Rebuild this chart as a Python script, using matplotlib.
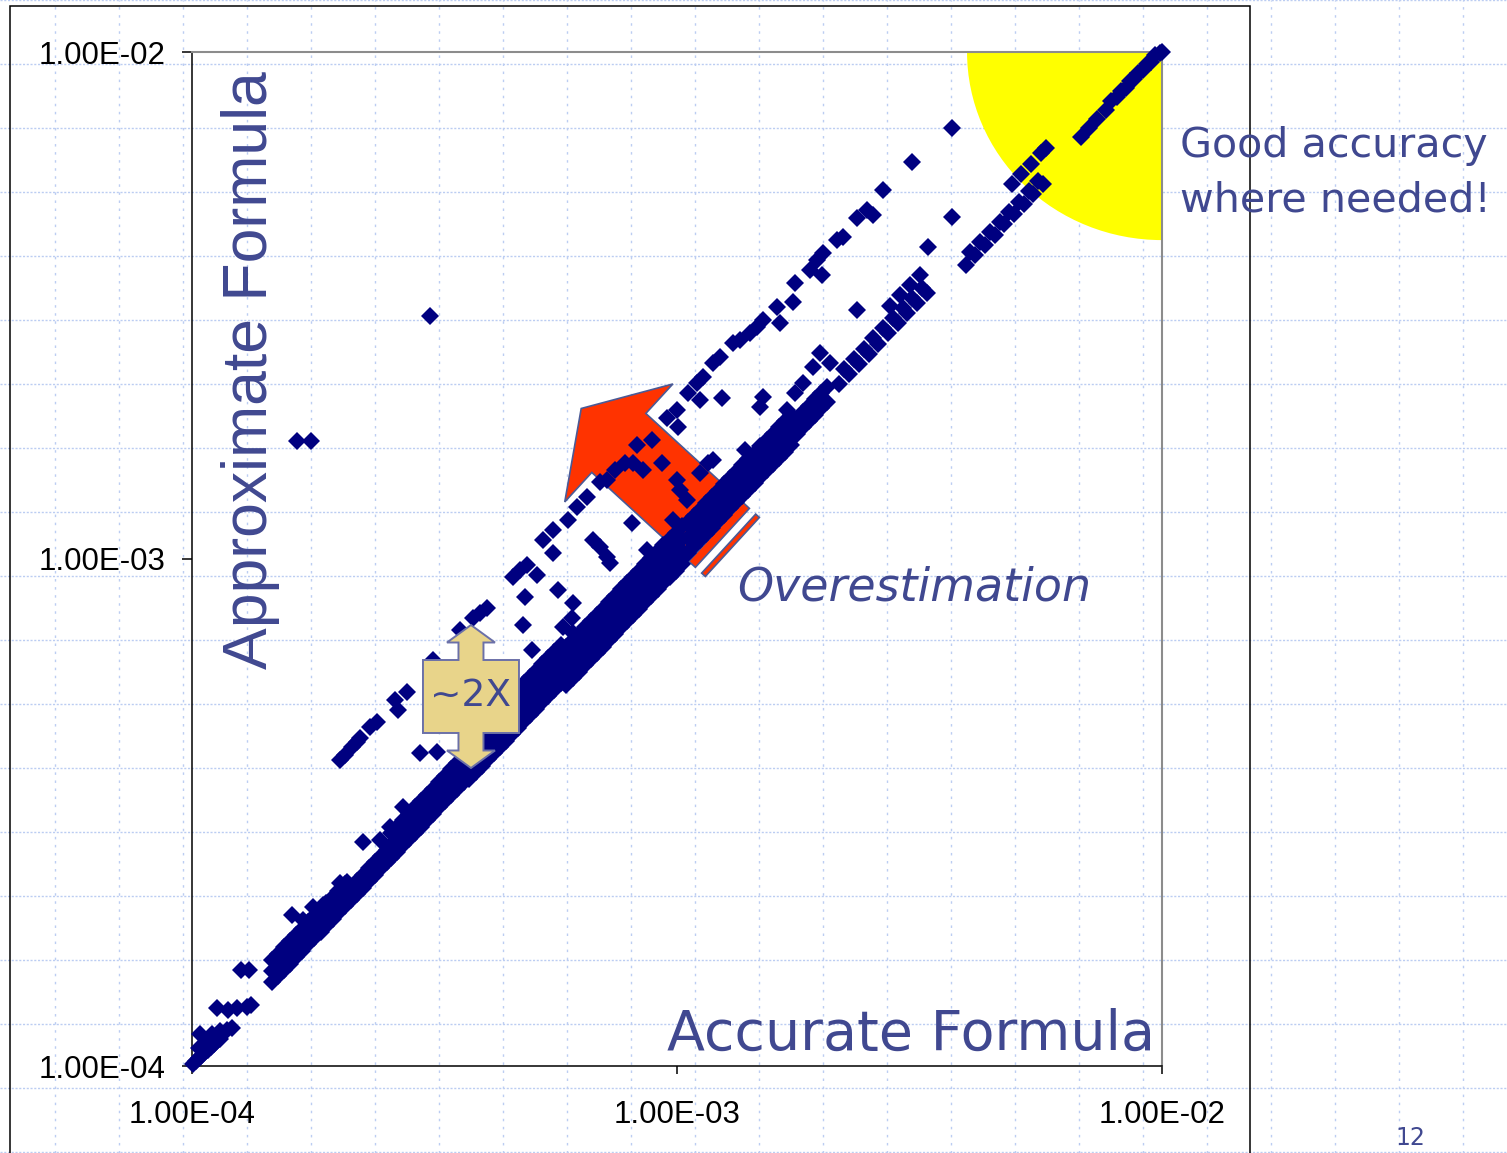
import numpy as np
import matplotlib.pyplot as plt
from matplotlib.patches import Polygon, Ellipse, Rectangle
from matplotlib.lines import Line2D
from matplotlib.ticker import FixedLocator, FuncFormatter, NullLocator
from matplotlib.transforms import Affine2D, ScaledTranslation

# log10 of (accurate value, approximate value) for each sample
low_acc = [-3.998, -3.992, -3.986, -3.979, -3.973, -3.967, -3.961, -3.955, -3.948, -3.942,
           -3.986, -3.977, -3.969, -3.984, -3.959, -3.942, -3.928, -3.918,
           -3.948, -3.926, -3.907, -3.887, -3.878, -3.899, -3.882]
low_apx = [-3.996, -3.990, -3.984, -3.978, -3.972, -3.968, -3.963, -3.957, -3.951, -3.947,
           -3.964, -3.961, -3.955, -3.937, -3.937, -3.931, -3.929, -3.925,
           -3.886, -3.890, -3.886, -3.884, -3.880, -3.811, -3.811]

# main band near the diagonal: accurate values, then approximate values row by row
seg1_acc = [-3.835, -3.823, -3.810, -3.798, -3.785, -3.773, -3.760, -3.748, -3.735, -3.723,
            -3.710, -3.698, -3.685]
seg1_apx = [
    [-3.835, -3.823, -3.810, -3.798, -3.785, -3.773, -3.760, -3.748, -3.735, -3.723, -3.710, -3.698, -3.685],
    [-3.813, -3.801, -3.788, -3.776, -3.763, -3.751, -3.738, -3.726, -3.713, -3.701, -3.688, -3.676, -3.663],
    [-3.791, -3.779, -3.766, -3.754, -3.741, -3.729, -3.716, -3.704, -3.691, -3.679, -3.666, -3.654, -3.641],
]
seg2_acc = [-3.673, -3.660, -3.648, -3.635, -3.623, -3.610, -3.598]
seg2_apx = [
    [-3.673, -3.660, -3.648, -3.635, -3.623, -3.610, -3.598],
    [-3.648, -3.635, -3.623, -3.610, -3.598, -3.585, -3.573],
]
seg3_acc = [-3.590, -3.578, -3.565, -3.553, -3.540, -3.528, -3.515, -3.503, -3.490, -3.478,
            -3.465, -3.453, -3.440]
seg3_apx = [
    [-3.590, -3.578, -3.565, -3.553, -3.540, -3.528, -3.515, -3.503, -3.490, -3.478, -3.465, -3.453, -3.440],
    [-3.565, -3.553, -3.540, -3.528, -3.515, -3.503, -3.490, -3.478, -3.465, -3.453, -3.440, -3.428, -3.415],
    [-3.540, -3.528, -3.515, -3.503, -3.490, -3.478, -3.465, -3.453, -3.440, -3.428, -3.415, -3.403, -3.390],
]
seg4_acc = [-3.428, -3.415, -3.403, -3.390, -3.378, -3.365, -3.353, -3.340, -3.328, -3.315,
            -3.303, -3.290, -3.278, -3.265, -3.253, -3.240]
seg4_apx = [
    [-3.433, -3.420, -3.408, -3.395, -3.383, -3.370, -3.358, -3.345, -3.333, -3.320, -3.308, -3.295, -3.283, -3.270, -3.258, -3.245],
    [-3.408, -3.395, -3.383, -3.370, -3.358, -3.345, -3.333, -3.320, -3.308, -3.295, -3.283, -3.270, -3.258, -3.245, -3.233, -3.220],
    [-3.383, -3.370, -3.358, -3.345, -3.333, -3.320, -3.308, -3.295, -3.283, -3.270, -3.258, -3.245, -3.233, -3.220, -3.208, -3.195],
    [-3.358, -3.345, -3.333, -3.320, -3.308, -3.295, -3.283, -3.270, -3.258, -3.245, -3.233, -3.220, -3.208, -3.195, -3.183, -3.170],
]
seg5_acc = [-3.228, -3.215, -3.203, -3.190, -3.178, -3.165, -3.153, -3.140, -3.128, -3.115,
            -3.103, -3.090, -3.078, -3.065, -3.053, -3.040, -3.028, -3.015, -3.003, -2.990]
seg5_apx = [
    [-3.248, -3.235, -3.223, -3.210, -3.198, -3.185, -3.173, -3.160, -3.148, -3.135,
     -3.123, -3.110, -3.098, -3.085, -3.073, -3.060, -3.048, -3.035, -3.023, -3.010],
    [-3.223, -3.210, -3.198, -3.185, -3.173, -3.160, -3.148, -3.135, -3.123, -3.110,
     -3.098, -3.085, -3.073, -3.060, -3.048, -3.035, -3.023, -3.010, -2.998, -2.985],
    [-3.198, -3.185, -3.173, -3.160, -3.148, -3.135, -3.123, -3.110, -3.098, -3.085,
     -3.073, -3.060, -3.048, -3.035, -3.023, -3.010, -2.998, -2.985, -2.973, -2.960],
    [-3.173, -3.160, -3.148, -3.135, -3.123, -3.110, -3.098, -3.085, -3.073, -3.060,
     -3.048, -3.035, -3.023, -3.010, -2.998, -2.985, -2.973, -2.960, -2.948, -2.935],
]
seg6_acc = [-2.978, -2.965, -2.953, -2.940, -2.928, -2.915, -2.903, -2.890, -2.878, -2.865,
            -2.853, -2.840, -2.828, -2.815, -2.803, -2.790, -2.778, -2.765]
seg6_apx = [
    [-2.988, -2.975, -2.963, -2.950, -2.938, -2.925, -2.913, -2.900, -2.888, -2.875,
     -2.863, -2.850, -2.838, -2.825, -2.813, -2.800, -2.788, -2.775],
    [-2.958, -2.945, -2.933, -2.920, -2.908, -2.895, -2.883, -2.870, -2.858, -2.845,
     -2.833, -2.820, -2.808, -2.795, -2.783, -2.770, -2.758, -2.745],
    [-2.928, -2.915, -2.903, -2.890, -2.878, -2.865, -2.853, -2.840, -2.828, -2.815,
     -2.803, -2.790, -2.778, -2.765, -2.753, -2.740, -2.728, -2.715],
]
seg7_acc = [-2.753, -2.740, -2.728, -2.715, -2.703, -2.690]
seg7_apx = [
    [-2.753, -2.740, -2.728, -2.715, -2.703, -2.690],
    [-2.723, -2.710, -2.698, -2.685, -2.673, -2.660],
]

top_acc = [-2.665, -2.645, -2.625, -2.605, -2.585, -2.565, -2.545, -2.525, -2.505, -2.485,
           -2.655, -2.635, -2.615, -2.595, -2.575, -2.555, -2.535, -2.515, -2.495,
           -2.560, -2.540, -2.520, -2.500,
           -2.405, -2.385, -2.365, -2.345, -2.325, -2.305, -2.285, -2.265, -2.245,
           -2.395, -2.375, -2.355, -2.335, -2.315, -2.295, -2.275, -2.255,
           -2.310, -2.290, -2.270, -2.250, -2.240,
           -2.167, -2.150, -2.133, -2.115,
           -2.093, -2.075, -2.058, -2.040, -2.023, -2.005, -2.000,
           -2.105, -2.084, -2.066, -2.049, -2.031, -2.014]
top_apx = [-2.655, -2.635, -2.615, -2.595, -2.575, -2.555, -2.535, -2.515, -2.495, -2.475,
           -2.625, -2.605, -2.585, -2.565, -2.545, -2.525, -2.505, -2.485, -2.465,
           -2.500, -2.480, -2.460, -2.440,
           -2.420, -2.400, -2.380, -2.360, -2.340, -2.320, -2.300, -2.280, -2.260,
           -2.395, -2.375, -2.355, -2.335, -2.315, -2.295, -2.275, -2.255,
           -2.260, -2.240, -2.220, -2.200, -2.190,
           -2.167, -2.150, -2.133, -2.115,
           -2.089, -2.071, -2.054, -2.036, -2.019, -2.002, -2.000,
           -2.097, -2.076, -2.058, -2.041, -2.023, -2.006]

# samples about twice the accurate value
twox_acc = [-3.695, -3.685, -3.670, -3.660, -3.654, -3.633, -3.619, -3.581, -3.575, -3.557,
            -3.503, -3.447, -3.421, -3.406, -3.392, -3.338, -3.324, -3.309, -3.276, -3.256,
            -3.225, -3.206, -3.186, -3.159, -3.144, -3.128, -3.107, -3.091, -3.082, -3.052,
            -3.021, -3.000, -2.977, -2.959, -2.946, -2.926, -2.911, -2.885, -2.870, -2.849,
            -2.835, -2.823, -2.794, -2.761, -2.757, -2.726, -2.711, -2.699, -2.670, -2.658,
            -2.629, -2.608, -2.596, -2.575, -2.515, -2.433]
twox_apx = [-3.396, -3.387, -3.371, -3.361, -3.353, -3.331, -3.322, -3.278, -3.298, -3.262,
            -3.199, -3.140, -3.116, -3.107, -3.097, -3.036, -3.022, -3.012, -2.962, -2.943,
            -2.923, -2.897, -2.878, -2.848, -2.844, -2.824, -2.811, -2.811, -2.775, -2.765,
            -2.722, -2.706, -2.673, -2.653, -2.641, -2.613, -2.602, -2.574, -2.568, -2.554,
            -2.542, -2.529, -2.503, -2.493, -2.456, -2.430, -2.410, -2.396, -2.371, -2.365,
            -2.327, -2.312, -2.322, -2.272, -2.217, -2.150]

# scattered samples between the two bands
mid_acc = [-3.794, -3.771, -3.751, -3.730, -3.695, -3.680, -3.647, -3.612, -3.592, -3.565,
           -3.530, -3.495, -3.318, -3.299, -3.313, -3.289, -3.256, -3.245, -3.235, -3.217,
           -3.214, -3.214, -3.173, -3.159, -3.144, -3.138, -3.093, -3.062, -3.070, -3.031,
           -2.998, -3.000, -2.994, -2.979, -3.008, -2.953, -2.907, -2.953, -2.936, -2.926,
           -2.911, -2.897, -2.885, -2.870, -2.860, -2.856, -2.835, -2.823, -2.829, -2.788,
           -2.773, -2.757, -2.740, -2.720, -2.705, -2.701, -2.699, -2.685, -2.629, -2.482,
           -2.433]
mid_apx = [-3.702, -3.712, -3.686, -3.682, -3.639, -3.637, -3.558, -3.554, -3.529, -3.489,
           -3.383, -3.381, -3.130, -3.180, -3.075, -3.032, -2.988, -3.061, -3.134, -3.116,
           -3.087, -3.146, -2.962, -2.976, -2.996, -3.008, -2.929, -2.982, -2.824, -2.811,
           -2.740, -2.844, -2.864, -2.884, -2.923, -2.686, -2.682, -2.830, -2.811, -2.805,
           -2.870, -2.884, -2.844, -2.858, -2.785, -2.819, -2.791, -2.680, -2.700, -2.535,
           -2.706, -2.673, -2.653, -2.621, -2.594, -2.440, -2.692, -2.613, -2.509, -2.385,
           -2.325]

out_acc = [-3.509, -3.784, -3.755]
out_apx = [-2.521, -2.767, -2.767]

ticks = [1e-4, 1e-3, 1e-2]

acc_log = low_acc + top_acc + twox_acc + mid_acc + out_acc
apx_log = low_apx + top_apx + twox_apx + mid_apx + out_apx
for xs, rows in [(seg1_acc, seg1_apx), (seg2_acc, seg2_apx), (seg3_acc, seg3_apx),
                 (seg4_acc, seg4_apx), (seg5_acc, seg5_apx), (seg6_acc, seg6_apx),
                 (seg7_acc, seg7_apx)]:
    for row in rows:
        acc_log += xs
        apx_log += row
acc = 10 ** np.array(acc_log)
apx = 10 ** np.array(apx_log)

W, H = 1507, 1153
txt_c = '#404890'
grid_c = '#bccdf2'

fig = plt.figure(figsize=(W / 100, H / 100), dpi=100)

# dotted slide grid
for gx in range(55, W, 64):
    fig.add_artist(Line2D([gx / W] * 2, [0, 1], color=grid_c, lw=1.0,
                          ls=(0, (1.8, 4.0)), zorder=-2))
for gy in range(0, H + 1, 64):
    fig.add_artist(Line2D([0, 1], [1 - gy / H] * 2, color=grid_c, lw=1.0,
                          ls=(0, (1.5, 1.2)), zorder=-2))

# chart frame
fig.add_artist(Rectangle((10 / W, -0.05), 1240 / W, 1.05 - 5.5 / H, fill=False,
                         ec='black', lw=1.1, transform=fig.transFigure, zorder=-1))

ax = fig.add_axes([192 / W, 1 - 1066 / H, 970 / W, 1014 / H])
ax.set_facecolor('none')
ax.set_xscale('log')
ax.set_yscale('log')
ax.set_xlim(1e-4, 1e-2)
ax.set_ylim(1e-4, 1e-2)

for side in ['left', 'bottom']:
    ax.spines[side].set_color('black')
    ax.spines[side].set_linewidth(1.1)
for side in ['top', 'right']:
    ax.spines[side].set_color('#8c8c8c')
    ax.spines[side].set_linewidth(1.5)

fmt = FuncFormatter(lambda v, p: f"{v:.2E}")
for axis in [ax.xaxis, ax.yaxis]:
    axis.set_major_locator(FixedLocator(ticks))
    axis.set_minor_locator(NullLocator())
    axis.set_major_formatter(fmt)
ax.tick_params(axis='x', direction='out', length=5.5, width=1.1, pad=19, labelsize=22.5)
ax.tick_params(axis='y', direction='out', length=7, width=1.1, pad=12, labelsize=22.5)
for lab in ax.get_xticklabels() + ax.get_yticklabels():
    lab.set_family('Liberation Sans')

# good-accuracy zone in the top right corner
ax.add_patch(Ellipse((1, 1), 0.402, 0.371, transform=ax.transAxes,
                     fc='#ffff00', ec='none', zorder=1))

# striped block arrow pointing up-left
def placed(fx, fy, angle):
    return Affine2D().rotate_deg(angle) + ScaledTranslation(fx, fy, ax.transAxes)

arrow_tr = placed(0.5335, 0.5325, 137.5)
body = [(0, -40), (123, -40), (123, -80), (174, 0), (123, 80), (123, 40), (0, 40)]
ax.add_patch(Polygon(body, closed=True, transform=arrow_tr, fc='#ff3300',
                     ec='#4a5a96', lw=1.2, zorder=2))
for x0, x1 in [(-17.5, -8.5), (-31, -26)]:
    ax.add_patch(Polygon([(x0, -40), (x1, -40), (x1, 40), (x0, 40)], closed=True,
                         transform=arrow_tr, fc='#ff3300', ec='#4a5a96', lw=1.2, zorder=2))

ax.plot(acc, apx, ls='none', marker='D', ms=9.5, mew=0, color='#000080',
        zorder=3, clip_on=False)

# up-down callout marking the factor of two
call_tr = placed(0.2876, 0.3644, 0)
call = [(-48, 36.5), (-12.5, 36.5), (-12.5, 54), (-24, 54), (0, 71.5), (24, 54),
        (12.5, 54), (12.5, 36.5), (48, 36.5), (48, -36.5), (12.5, -36.5), (12.5, -54),
        (24, -54), (0, -71.5), (-24, -54), (-12.5, -54), (-12.5, -36.5), (-48, -36.5)]
ax.add_patch(Polygon(call, closed=True, transform=call_tr, fc='#e8d48a',
                     ec='#6b70a8', lw=1.4, zorder=4, clip_on=False))
ax.text(0.2876, 0.3644, '~2X', transform=ax.transAxes, ha='center', va='center',
        fontsize=27, color=txt_c, zorder=5)

ax.text(0.0608, 0.686, 'Approximate Formula', transform=ax.transAxes, rotation=90,
        ha='center', va='center', fontsize=45, family='Liberation Sans', color=txt_c)
ax.text(0.9928, 0.0158, 'Accurate Formula', transform=ax.transAxes, ha='right',
        va='baseline', fontsize=40, color=txt_c)
ax.text(0.562, 0.4586, 'Overestimation', transform=ax.transAxes, style='italic',
        va='baseline', fontsize=33, color=txt_c)

fig.text(1180 / W, 1 - 157 / H, 'Good accuracy', va='baseline', fontsize=29.7, color=txt_c)
fig.text(1180 / W, 1 - 212 / H, 'where needed!', va='baseline', fontsize=29.7, color=txt_c)
# slide number
fig.text(1395 / W, 1 - 1150 / H, '12', va='bottom', fontsize=17, color=txt_c)

fig.savefig('out.png', dpi=100)
